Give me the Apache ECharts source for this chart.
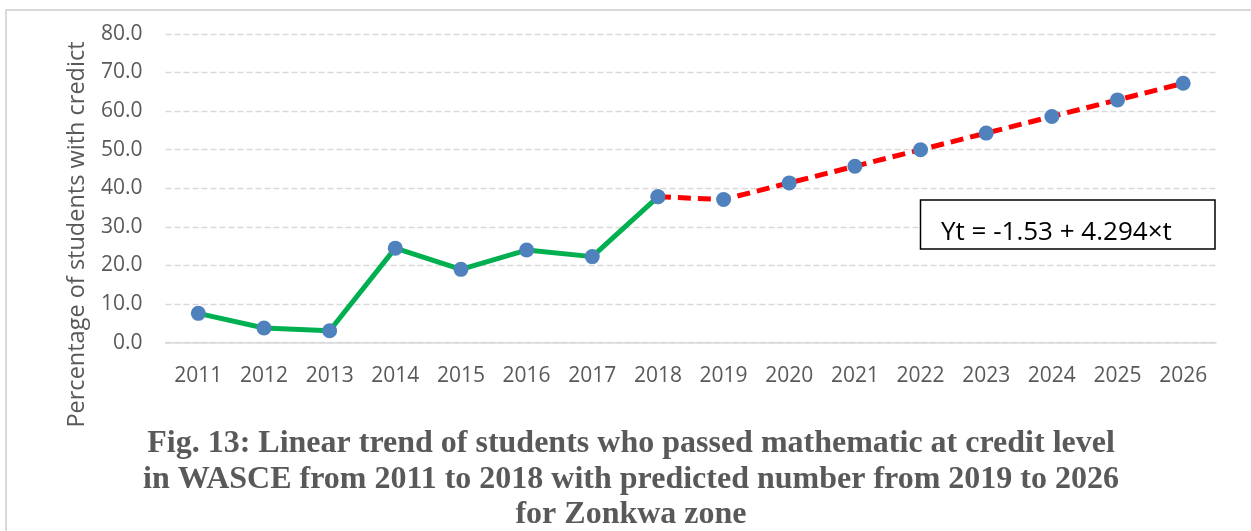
<!DOCTYPE html>
<html>
<head>
<meta charset="utf-8">
<title>Linear trend of students who passed mathematic at credit level - Zonkwa zone</title>
<script src="https://cdn.jsdelivr.net/npm/echarts@6/dist/echarts.min.js"></script>
<style>
  html, body { margin: 0; padding: 0; background: #ffffff; }
  #chart { width: 1251px; height: 531px; }
</style>
</head>
<body>
<div id="chart"></div>
<script>
// Years on the category axis
const years = ['2011', '2012', '2013', '2014', '2015', '2016', '2017', '2018',
               '2019', '2020', '2021', '2022', '2023', '2024', '2025', '2026'];

// Observed percentage of students with credit (2011-2018)
const observed = [7.6, 3.8, 3.1, 24.5, 19.0, 24.0, 22.3, 37.8];

// Predicted percentages from the linear trend (2019-2026)
const predicted = [37.1, 41.4, 45.7, 50.0, 54.3, 58.6, 62.9, 67.2];

// Value axis ticks
const yTicks = [0, 10, 20, 30, 40, 50, 60, 70, 80];

const equationText = 'Yt = -1.53 + 4.294\u00d7t';
const yAxisTitle = 'Percentage of students with credict';
const captionLines = [
  'Fig. 13: Linear trend of students who passed mathematic at credit level',
  'in WASCE from 2011 to 2018 with predicted number from 2019 to 2026',
  'for Zonkwa zone'
];

// Observed series fills only its own years; the forecast starts from the last observed point
const observedData = years.map((y, i) => (i < observed.length ? observed[i] : '-'));
const forecastData = years.map((y, i) => {
  if (i < observed.length - 1) return '-';
  if (i === observed.length - 1) return observed[i];
  return predicted[i - observed.length];
});

const textGrey = '#595959';
const gridGrey = '#D9D9D9';
const markerBlue = '#4F81BD';
const sansFont = '"Open Sans", "Noto Sans", sans-serif';
const captionFont = 'bold 32px "Liberation Serif", "Times New Roman", serif';

const chart = echarts.init(document.getElementById('chart'), null, { renderer: 'canvas' });

const option = {
  backgroundColor: '#ffffff',
  animation: false,
  grid: { left: 165.5, right: 35, top: 33.9, bottom: 188.3, containLabel: false },
  xAxis: {
    type: 'category',
    data: years,
    boundaryGap: true,
    axisLine: { show: true, lineStyle: { color: gridGrey, width: 1.5 } },
    axisTick: { show: false },
    axisLabel: { color: textGrey, fontFamily: sansFont, fontSize: 21, margin: 23 },
    splitLine: { show: false }
  },
  yAxis: {
    type: 'value',
    min: yTicks[0],
    max: yTicks[yTicks.length - 1],
    interval: yTicks[1] - yTicks[0],
    axisLine: { show: false },
    axisTick: { show: false },
    axisLabel: {
      color: textGrey, fontFamily: sansFont, fontSize: 21, margin: 23,
      formatter: v => v.toFixed(1)
    },
    splitLine: { show: true, lineStyle: { color: gridGrey, width: 1.3, type: [6, 3] } }
  },
  series: [
    {
      name: 'Observed',
      type: 'line',
      data: observedData,
      connectNulls: false,
      lineStyle: { color: '#00B050', width: 5 },
      symbol: 'circle',
      symbolSize: 15,
      itemStyle: { color: markerBlue },
      z: 3
    },
    {
      name: 'Predicted',
      type: 'line',
      data: forecastData,
      connectNulls: false,
      lineStyle: { color: '#FF0000', width: 5, type: [13, 7] },
      symbol: 'circle',
      symbolSize: 15,
      itemStyle: { color: markerBlue },
      z: 4
    }
  ],
  graphic: [
    // Outer frame
    {
      type: 'rect',
      shape: { x: 6, y: 10, width: 1400, height: 700 },
      style: { fill: 'none', stroke: gridGrey, lineWidth: 2 },
      silent: true,
      z: 0
    },
    // Trend equation box
    {
      type: 'rect',
      shape: { x: 920.5, y: 200, width: 294.5, height: 49 },
      style: { fill: '#ffffff', stroke: '#000000', lineWidth: 1.5 },
      z: 10
    },
    {
      type: 'text',
      x: 941, y: 233,
      style: {
        text: equationText, fill: '#000000',
        font: '26px "Open Sans", "Noto Sans", sans-serif',
        textAlign: 'left', textVerticalAlign: 'middle'
      },
      z: 11
    },
    // Value axis title
    {
      type: 'text',
      x: 77, y: 234.5,
      rotation: Math.PI / 2,
      style: {
        text: yAxisTitle, fill: textGrey,
        font: '23.5px "Open Sans", "Noto Sans", sans-serif',
        textAlign: 'center', textVerticalAlign: 'middle'
      },
      z: 10
    },
    // Caption below the plot
    {
      type: 'text', x: 631, y: 444,
      style: { text: captionLines[0], fill: textGrey, font: captionFont,
               textAlign: 'center', textVerticalAlign: 'middle' }
    },
    {
      type: 'text', x: 631, y: 480,
      style: { text: captionLines[1], fill: textGrey, font: captionFont,
               textAlign: 'center', textVerticalAlign: 'middle' }
    },
    {
      type: 'text', x: 631, y: 515,
      style: { text: captionLines[2], fill: textGrey, font: captionFont,
               textAlign: 'center', textVerticalAlign: 'middle' }
    }
  ]
};

chart.setOption(option);
</script>
</body>
</html>
